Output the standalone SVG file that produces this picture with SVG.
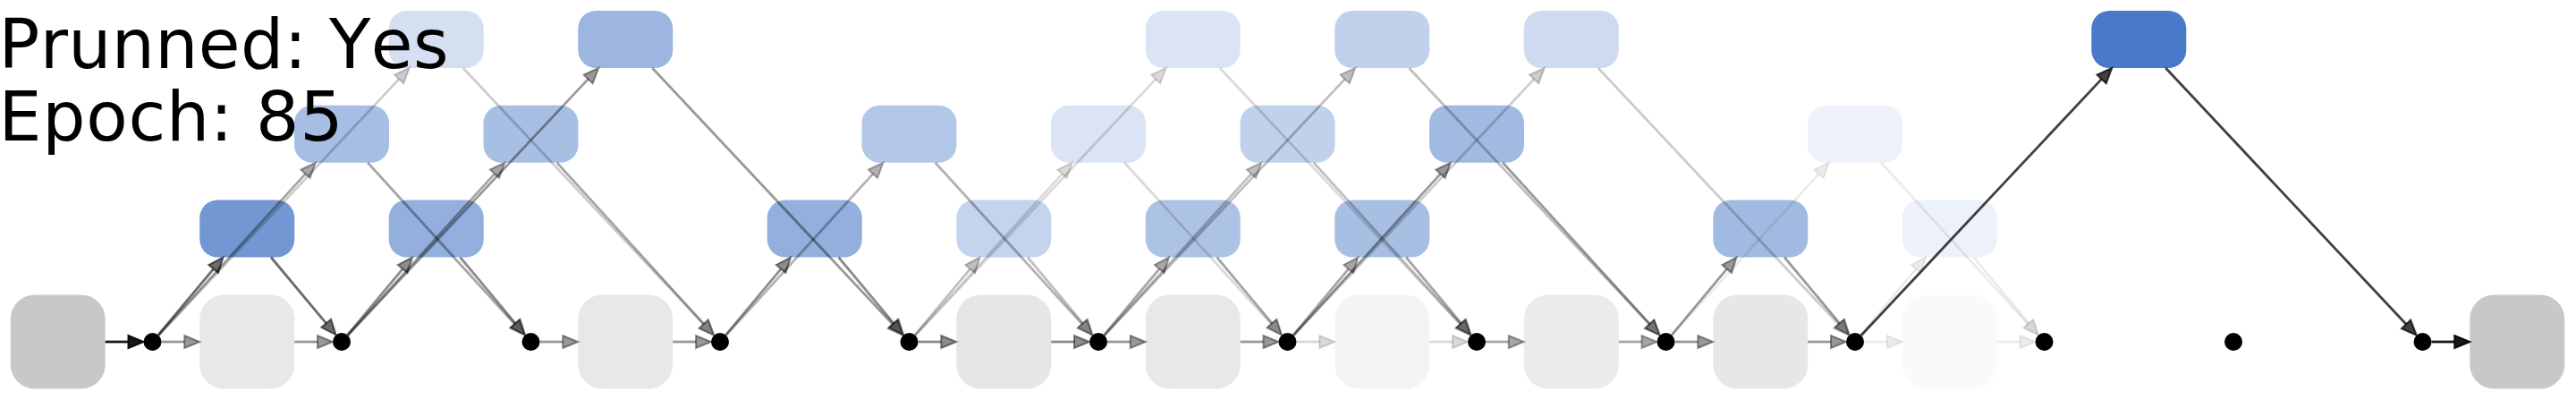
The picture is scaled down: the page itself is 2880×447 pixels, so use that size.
<svg xmlns="http://www.w3.org/2000/svg" width="2880" height="447" viewBox="0 0 2880 447">
<style>
.n{fill:#4a7ac7}
.g{fill:#c8c8c8}
.e{fill:none;stroke:#000;stroke-width:2.8}
marker path{fill:#000;stroke:#000;stroke-width:2;stroke-linejoin:miter}
.d{fill:#000}
text{font-family:"DejaVu Sans",Verdana,sans-serif;font-size:76px;fill:#000;font-kerning:none}
.q08{stroke-opacity:.08;fill-opacity:.08}
.q15{stroke-opacity:.15;fill-opacity:.15}
.q20{stroke-opacity:.2;fill-opacity:.2}
.q25{stroke-opacity:.25;fill-opacity:.25}
.q30{stroke-opacity:.3;fill-opacity:.3}
.q35{stroke-opacity:.35;fill-opacity:.35}
.q40{stroke-opacity:.4;fill-opacity:.4}
.q45{stroke-opacity:.45;fill-opacity:.45}
.q58{stroke-opacity:.58;fill-opacity:.58}
.q75{stroke-opacity:.75;fill-opacity:.75}
.q90{stroke-opacity:.9;fill-opacity:.9}
</style>
<defs>
<marker id="a08" class="q08" markerUnits="userSpaceOnUse" markerWidth="20" markerHeight="16" refX="0" refY="7" orient="auto" overflow="visible"><path d="M0,0L17,7L0,14z"/></marker>
<marker id="a15" class="q15" markerUnits="userSpaceOnUse" markerWidth="20" markerHeight="16" refX="0" refY="7" orient="auto" overflow="visible"><path d="M0,0L17,7L0,14z"/></marker>
<marker id="a20" class="q20" markerUnits="userSpaceOnUse" markerWidth="20" markerHeight="16" refX="0" refY="7" orient="auto" overflow="visible"><path d="M0,0L17,7L0,14z"/></marker>
<marker id="a25" class="q25" markerUnits="userSpaceOnUse" markerWidth="20" markerHeight="16" refX="0" refY="7" orient="auto" overflow="visible"><path d="M0,0L17,7L0,14z"/></marker>
<marker id="a30" class="q30" markerUnits="userSpaceOnUse" markerWidth="20" markerHeight="16" refX="0" refY="7" orient="auto" overflow="visible"><path d="M0,0L17,7L0,14z"/></marker>
<marker id="a35" class="q35" markerUnits="userSpaceOnUse" markerWidth="20" markerHeight="16" refX="0" refY="7" orient="auto" overflow="visible"><path d="M0,0L17,7L0,14z"/></marker>
<marker id="a40" class="q40" markerUnits="userSpaceOnUse" markerWidth="20" markerHeight="16" refX="0" refY="7" orient="auto" overflow="visible"><path d="M0,0L17,7L0,14z"/></marker>
<marker id="a45" class="q45" markerUnits="userSpaceOnUse" markerWidth="20" markerHeight="16" refX="0" refY="7" orient="auto" overflow="visible"><path d="M0,0L17,7L0,14z"/></marker>
<marker id="a58" class="q58" markerUnits="userSpaceOnUse" markerWidth="20" markerHeight="16" refX="0" refY="7" orient="auto" overflow="visible"><path d="M0,0L17,7L0,14z"/></marker>
<marker id="a75" class="q75" markerUnits="userSpaceOnUse" markerWidth="20" markerHeight="16" refX="0" refY="7" orient="auto" overflow="visible"><path d="M0,0L17,7L0,14z"/></marker>
<marker id="a90" class="q90" markerUnits="userSpaceOnUse" markerWidth="20" markerHeight="16" refX="0" refY="7" orient="auto" overflow="visible"><path d="M0,0L17,7L0,14z"/></marker>
</defs>
<rect width="2880" height="447" fill="#fff"/>
<g id="nodes-bottom">
<g id="in"><rect class="g" x="11.75" y="329.5" width="106" height="105" rx="27"/></g>
<g id="b0"><rect class="g" x="223.25" y="329.5" width="106" height="105" rx="27" fill-opacity=".42"/></g>
<g id="b2"><rect class="g" x="646.25" y="329.5" width="106" height="105" rx="27" fill-opacity=".42"/></g>
<g id="b4"><rect class="g" x="1069.25" y="329.5" width="106" height="105" rx="27" fill-opacity=".45"/></g>
<g id="b5"><rect class="g" x="1280.75" y="329.5" width="106" height="105" rx="27" fill-opacity=".42"/></g>
<g id="b6"><rect class="g" x="1492.25" y="329.5" width="106" height="105" rx="27" fill-opacity=".2"/></g>
<g id="b7"><rect class="g" x="1703.75" y="329.5" width="106" height="105" rx="27" fill-opacity=".36"/></g>
<g id="b8"><rect class="g" x="1915.25" y="329.5" width="106" height="105" rx="27" fill-opacity=".44"/></g>
<g id="b9"><rect class="g" x="2126.75" y="329.5" width="106" height="105" rx="27" fill-opacity=".09"/></g>
<g id="out"><rect class="g" x="2761.25" y="329.5" width="106" height="105" rx="27"/></g>
</g>
<g id="nodes-row1">
<g id="r1k0"><rect class="n" x="223.25" y="223.5" width="106" height="64" rx="20" fill-opacity=".78"/></g>
<g id="r1k1"><rect class="n" x="434.75" y="223.5" width="106" height="64" rx="20" fill-opacity=".6"/></g>
<g id="r1k3"><rect class="n" x="857.75" y="223.5" width="106" height="64" rx="20" fill-opacity=".6"/></g>
<g id="r1k4"><rect class="n" x="1069.25" y="223.5" width="106" height="64" rx="20" fill-opacity=".32"/></g>
<g id="r1k5"><rect class="n" x="1280.75" y="223.5" width="106" height="64" rx="20" fill-opacity=".45"/></g>
<g id="r1k6"><rect class="n" x="1492.25" y="223.5" width="106" height="64" rx="20" fill-opacity=".48"/></g>
<g id="r1k8"><rect class="n" x="1915.25" y="223.5" width="106" height="64" rx="20" fill-opacity=".52"/></g>
<g id="r1k9"><rect class="n" x="2126.75" y="223.5" width="106" height="64" rx="20" fill-opacity=".1"/></g>
</g>
<g id="nodes-row2">
<g id="r2k0"><rect class="n" x="329" y="117.75" width="106" height="64" rx="20" fill-opacity=".49"/></g>
<g id="r2k1"><rect class="n" x="540.5" y="117.75" width="106" height="64" rx="20" fill-opacity=".48"/></g>
<g id="r2k3"><rect class="n" x="963.5" y="117.75" width="106" height="64" rx="20" fill-opacity=".42"/></g>
<g id="r2k4"><rect class="n" x="1175" y="117.75" width="106" height="64" rx="20" fill-opacity=".2"/></g>
<g id="r2k5"><rect class="n" x="1386.5" y="117.75" width="106" height="64" rx="20" fill-opacity=".35"/></g>
<g id="r2k6"><rect class="n" x="1598" y="117.75" width="106" height="64" rx="20" fill-opacity=".52"/></g>
<g id="r2k8"><rect class="n" x="2021" y="117.75" width="106" height="64" rx="20" fill-opacity=".1"/></g>
</g>
<g id="nodes-row3">
<g id="r3k0"><rect class="n" x="434.75" y="12" width="106" height="64" rx="20" fill-opacity=".24"/></g>
<g id="r3k1"><rect class="n" x="646.25" y="12" width="106" height="64" rx="20" fill-opacity=".55"/></g>
<g id="r3k4"><rect class="n" x="1280.75" y="12" width="106" height="64" rx="20" fill-opacity=".2"/></g>
<g id="r3k5"><rect class="n" x="1492.25" y="12" width="106" height="64" rx="20" fill-opacity=".35"/></g>
<g id="r3k6"><rect class="n" x="1703.75" y="12" width="106" height="64" rx="20" fill-opacity=".28"/></g>
<g id="r3k9"><rect class="n" x="2338.25" y="12" width="106" height="64" rx="20"/></g>
</g>
<g id="connectors">
<path class="e q90" d="M117.75,382L143.5,382" marker-end="url(#a90)"/>
<path class="e q90" d="M2718.5,382L2744.25,382" marker-end="url(#a90)"/>
<path class="e q40" d="M180.5,382L206.25,382" marker-end="url(#a40)"/>
<path class="e q40" d="M329.25,382L355,382" marker-end="url(#a40)"/>
<path class="e q40" d="M603.5,382L629.25,382" marker-end="url(#a40)"/>
<path class="e q40" d="M752.25,382L778,382" marker-end="url(#a40)"/>
<path class="e q45" d="M1026.5,382L1052.25,382" marker-end="url(#a45)"/>
<path class="e q45" d="M1175.25,382L1201,382" marker-end="url(#a45)"/>
<path class="e q40" d="M1238,382L1263.75,382" marker-end="url(#a40)"/>
<path class="e q40" d="M1386.75,382L1412.5,382" marker-end="url(#a40)"/>
<path class="e q15" d="M1449.5,382L1475.25,382" marker-end="url(#a15)"/>
<path class="e q15" d="M1598.25,382L1624,382" marker-end="url(#a15)"/>
<path class="e q35" d="M1661,382L1686.75,382" marker-end="url(#a35)"/>
<path class="e q35" d="M1809.75,382L1835.5,382" marker-end="url(#a35)"/>
<path class="e q40" d="M1872.5,382L1898.25,382" marker-end="url(#a40)"/>
<path class="e q40" d="M2021.25,382L2047,382" marker-end="url(#a40)"/>
<path class="e q08" d="M2084,382L2109.75,382" marker-end="url(#a08)"/>
<path class="e q08" d="M2232.75,382L2258.5,382" marker-end="url(#a08)"/>
<path class="e q58" d="M176.91,374.33L238.6,300.54" marker-end="url(#a58)"/>
<path class="e q58" d="M303,287.5L364.69,361.29" marker-end="url(#a58)"/>
<path class="e q45" d="M388.41,374.33L450.1,300.54" marker-end="url(#a45)"/>
<path class="e q45" d="M514.5,287.5L576.19,361.29" marker-end="url(#a45)"/>
<path class="e q45" d="M811.41,374.33L873.1,300.54" marker-end="url(#a45)"/>
<path class="e q45" d="M937.5,287.5L999.19,361.29" marker-end="url(#a45)"/>
<path class="e q25" d="M1022.91,374.33L1084.6,300.54" marker-end="url(#a25)"/>
<path class="e q25" d="M1149,287.5L1210.69,361.29" marker-end="url(#a25)"/>
<path class="e q35" d="M1234.41,374.33L1296.1,300.54" marker-end="url(#a35)"/>
<path class="e q35" d="M1360.5,287.5L1422.19,361.29" marker-end="url(#a35)"/>
<path class="e q35" d="M1445.91,374.33L1507.6,300.54" marker-end="url(#a35)"/>
<path class="e q35" d="M1572,287.5L1633.69,361.29" marker-end="url(#a35)"/>
<path class="e q40" d="M1868.91,374.33L1930.6,300.54" marker-end="url(#a40)"/>
<path class="e q40" d="M1995,287.5L2056.69,361.29" marker-end="url(#a40)"/>
<path class="e q08" d="M2080.41,374.33L2142.1,300.54" marker-end="url(#a08)"/>
<path class="e q08" d="M2206.5,287.5L2268.19,361.29" marker-end="url(#a08)"/>
<path class="e q35" d="M177.23,374.61L341.41,194.32" marker-end="url(#a35)"/>
<path class="e q35" d="M411.14,181.75L575.32,362.04" marker-end="url(#a35)"/>
<path class="e q35" d="M388.73,374.61L552.91,194.32" marker-end="url(#a35)"/>
<path class="e q35" d="M622.64,181.75L786.82,362.04" marker-end="url(#a35)"/>
<path class="e q30" d="M811.73,374.61L975.91,194.32" marker-end="url(#a30)"/>
<path class="e q30" d="M1045.64,181.75L1209.82,362.04" marker-end="url(#a30)"/>
<path class="e q15" d="M1023.23,374.61L1187.41,194.32" marker-end="url(#a15)"/>
<path class="e q15" d="M1257.14,181.75L1421.32,362.04" marker-end="url(#a15)"/>
<path class="e q25" d="M1234.73,374.61L1398.91,194.32" marker-end="url(#a25)"/>
<path class="e q25" d="M1468.64,181.75L1632.82,362.04" marker-end="url(#a25)"/>
<path class="e q40" d="M1446.23,374.61L1610.41,194.32" marker-end="url(#a40)"/>
<path class="e q40" d="M1680.14,181.75L1844.32,362.04" marker-end="url(#a40)"/>
<path class="e q08" d="M1869.23,374.61L2033.41,194.32" marker-end="url(#a08)"/>
<path class="e q08" d="M2103.14,181.75L2267.32,362.04" marker-end="url(#a08)"/>
<path class="e q20" d="M177.34,374.71L446.08,88.4" marker-end="url(#a20)"/>
<path class="e q20" d="M517.79,76L786.53,362.31" marker-end="url(#a20)"/>
<path class="e q40" d="M388.84,374.71L657.58,88.4" marker-end="url(#a40)"/>
<path class="e q40" d="M729.29,76L998.03,362.31" marker-end="url(#a40)"/>
<path class="e q15" d="M1023.34,374.71L1292.08,88.4" marker-end="url(#a15)"/>
<path class="e q15" d="M1363.79,76L1632.53,362.31" marker-end="url(#a15)"/>
<path class="e q25" d="M1234.84,374.71L1503.58,88.4" marker-end="url(#a25)"/>
<path class="e q25" d="M1575.29,76L1844.03,362.31" marker-end="url(#a25)"/>
<path class="e q20" d="M1446.34,374.71L1715.08,88.4" marker-end="url(#a20)"/>
<path class="e q20" d="M1786.79,76L2055.53,362.31" marker-end="url(#a20)"/>
<path class="e q75" d="M2080.84,374.71L2349.58,88.4" marker-end="url(#a75)"/>
<path class="e q75" d="M2421.29,76L2690.03,362.31" marker-end="url(#a75)"/>
</g>
<g id="junctions">
<circle class="d" cx="170.5" cy="382" r="10"/>
<circle class="d" cx="382" cy="382" r="10"/>
<circle class="d" cx="593.5" cy="382" r="10"/>
<circle class="d" cx="805" cy="382" r="10"/>
<circle class="d" cx="1016.5" cy="382" r="10"/>
<circle class="d" cx="1228" cy="382" r="10"/>
<circle class="d" cx="1439.5" cy="382" r="10"/>
<circle class="d" cx="1651" cy="382" r="10"/>
<circle class="d" cx="1862.5" cy="382" r="10"/>
<circle class="d" cx="2074" cy="382" r="10"/>
<circle class="d" cx="2285.5" cy="382" r="10"/>
<circle class="d" cx="2497" cy="382" r="10"/>
<circle class="d" cx="2708.5" cy="382" r="10"/>
</g>
<g id="labels">
<text x="-1.5" y="76" textLength="503" lengthAdjust="spacing">Prunned: Yes</text>
<text x="-1.5" y="156.5" textLength="385" lengthAdjust="spacing">Epoch: 85</text>
</g>
</svg>
